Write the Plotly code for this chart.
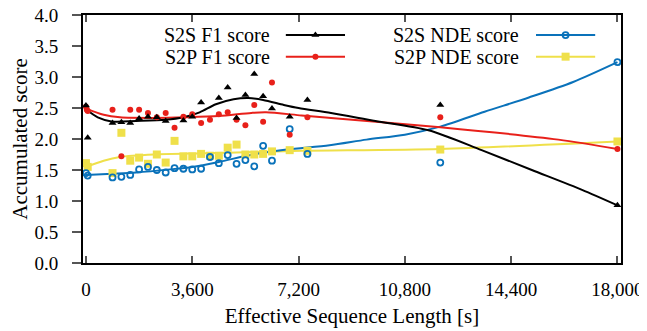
import plotly.graph_objects as go

# ---- scatter data (seconds, score) ----
s2s_f1_x = [0, 60, 900, 1200, 1500, 1800, 2100, 2400, 2700, 3300, 3600, 3900, 4500, 4800, 5100, 5400, 5700, 6000, 6300, 6900, 7500, 12000, 18000]
s2s_f1_y = [2.54, 2.02, 2.26, 2.27, 2.26, 2.33, 2.36, 2.35, 2.29, 2.30, 2.36, 2.59, 2.66, 2.83, 2.34, 2.71, 3.05, 2.69, 2.49, 2.36, 2.63, 2.55, 0.93]

s2p_f1_x = [0, 30, 60, 900, 1200, 1500, 1800, 2100, 2400, 2700, 3000, 3300, 3600, 3900, 4200, 4500, 4800, 5100, 5400, 5700, 6000, 6300, 6900, 7500, 12000, 18000]
s2p_f1_y = [2.52, 2.47, 2.45, 2.47, 1.72, 2.47, 2.47, 2.42, 2.35, 2.42, 2.18, 2.36, 2.40, 2.26, 2.31, 2.40, 2.43, 2.31, 2.22, 2.55, 2.28, 2.91, 2.07, 2.35, 2.35, 1.84]

s2s_nde_x = [0, 60, 900, 1200, 1500, 1800, 2100, 2400, 2700, 3000, 3300, 3600, 3900, 4200, 4500, 4800, 5100, 5400, 5700, 6000, 6300, 6900, 7500, 12000, 18000]
s2s_nde_y = [1.45, 1.41, 1.38, 1.39, 1.42, 1.51, 1.55, 1.50, 1.46, 1.53, 1.52, 1.51, 1.52, 1.71, 1.61, 1.74, 1.60, 1.66, 1.56, 1.89, 1.65, 2.16, 1.76, 1.62, 3.24]

s2p_nde_x = [0, 60, 900, 1200, 1500, 1800, 2100, 2400, 2700, 3000, 3300, 3600, 3900, 4200, 4500, 4800, 5100, 5400, 5700, 6000, 6300, 6900, 7500, 12000, 18000]
s2p_nde_y = [1.61, 1.55, 1.45, 2.10, 1.65, 1.70, 1.60, 1.75, 1.62, 1.97, 1.72, 1.72, 1.76, 1.73, 1.73, 1.86, 1.91, 1.75, 1.75, 1.76, 1.80, 1.82, 1.81, 1.83, 1.96]

# ---- smoothed trend curves ----
s2s_f1_fit_x = [0, 400, 900, 1700, 2700, 3300, 3850, 4400, 5000, 5500, 6000, 6700, 7200, 8300, 9800, 11600, 13400, 15100, 16800, 18000]
s2s_f1_fit_y = [2.48, 2.35, 2.28, 2.29, 2.31, 2.35, 2.43, 2.56, 2.64, 2.66, 2.63, 2.55, 2.50, 2.42, 2.29, 2.14, 1.82, 1.50, 1.18, 0.93]

s2p_f1_fit_x = [0, 600, 1150, 2300, 3400, 4500, 5600, 6100, 7300, 8300, 12000, 16000, 18000]
s2p_f1_fit_y = [2.49, 2.39, 2.35, 2.34, 2.35, 2.37, 2.42, 2.43, 2.38, 2.34, 2.19, 1.99, 1.84]

s2s_nde_fit_x = [0, 900, 1700, 2850, 3600, 4500, 5650, 6800, 8250, 9500, 10800, 12000, 13500, 15000, 16500, 18000]
s2s_nde_fit_y = [1.42, 1.44, 1.46, 1.51, 1.55, 1.63, 1.75, 1.83, 1.90, 1.99, 2.07, 2.20, 2.44, 2.67, 2.92, 3.24]

s2p_nde_fit_x = [0, 600, 1150, 2300, 4000, 5650, 7300, 12000, 18000]
s2p_nde_fit_y = [1.55, 1.65, 1.71, 1.75, 1.77, 1.79, 1.81, 1.84, 1.96]

x_ticks = [0, 3600, 7200, 10800, 14400, 18000]
y_ticks = [0.0, 0.5, 1.0, 1.5, 2.0, 2.5, 3.0, 3.5, 4.0]

series_names = ["S2S F1 score", "S2P F1 score", "S2S NDE score", "S2P NDE score"]

BLACK = "#000000"
RED = "#e8201a"
BLUE = "#0a72ba"
YELLOW = "#efe04a"
FONT = "Times New Roman, Liberation Serif, Tinos, Times, serif"

styles = [
    dict(color=BLACK, symbol="triangle-up", size=7, line=dict(width=0)),
    dict(color=RED, symbol="circle", size=6, line=dict(width=0)),
    dict(color=BLUE, symbol="circle-open", size=6, line=dict(width=1.8, color=BLUE)),
    dict(color=YELLOW, symbol="square", size=8, line=dict(width=0)),
]
line_colors = [BLACK, RED, BLUE, YELLOW]

pts = [(s2s_f1_x, s2s_f1_y), (s2p_f1_x, s2p_f1_y), (s2s_nde_x, s2s_nde_y), (s2p_nde_x, s2p_nde_y)]
fits = [(s2s_f1_fit_x, s2s_f1_fit_y), (s2p_f1_fit_x, s2p_f1_fit_y),
        (s2s_nde_fit_x, s2s_nde_fit_y), (s2p_nde_fit_x, s2p_nde_fit_y)]

fig = go.Figure()
order = [3, 2, 1, 0]
for i in order:
    fx, fy = fits[i]
    fig.add_trace(go.Scatter(x=fx, y=fy, mode="lines", showlegend=False,
                             line=dict(color=line_colors[i], width=2, shape="spline", smoothing=0.8),
                             hoverinfo="skip"))
for i in order:
    px_, py_ = pts[i]
    fig.add_trace(go.Scatter(x=px_, y=py_, mode="markers", name=series_names[i],
                             showlegend=False, marker=styles[i]))

# ---- custom gnuplot-style legend (text left, sample right) ----
leg_rows = [0.919, 0.832]
leg_cols = [(0.351, 0.377, 0.487), (0.815, 0.842, 0.952)]
for i, name in enumerate(series_names):
    col, row = divmod(i, 2)
    tx, l0, l1 = leg_cols[col]
    yy = leg_rows[row]
    fig.add_annotation(xref="paper", yref="paper", x=tx, y=yy, text=name, showarrow=False,
                       xanchor="right", yanchor="middle", font=dict(family=FONT, size=20, color="black"))
    fig.add_trace(go.Scatter(x=[l0, l1], y=[yy, yy], xaxis="x2", yaxis="y2", mode="lines",
                             line=dict(color=line_colors[i], width=2), showlegend=False, hoverinfo="skip"))
    fig.add_trace(go.Scatter(x=[(l0 + l1) / 2], y=[yy], xaxis="x2", yaxis="y2", mode="markers",
                             marker=styles[i], showlegend=False, hoverinfo="skip"))

# page body has an 8px default margin, so the figure is sized/offset to compensate
fig.update_layout(
    width=639, height=323,
    margin=dict(l=75, r=26, t=7, b=68, autoexpand=False),
    paper_bgcolor="white", plot_bgcolor="white",
    font=dict(family=FONT, size=19, color="black"),
    showlegend=False,
    xaxis=dict(range=[-100, 18120], tickvals=x_ticks, tickformat=",d",
               ticks="inside", ticklen=7, tickwidth=1.5, tickcolor="#555",
               showline=True, linecolor="black", linewidth=2, mirror="ticks",
               showgrid=False, zeroline=False, ticklabelstandoff=8, automargin=False,
               ticklabeloverflow="allow", tickfont=dict(size=19),
               title=dict(text="Effective Sequence Length [s]", standoff=10, font=dict(size=21))),
    yaxis=dict(range=[0, 4], tickvals=y_ticks, tickformat=".1f",
               ticks="outside", ticklen=9, tickwidth=1.5, tickcolor="#555",
               showline=True, linecolor="black", linewidth=2, mirror=True,
               showgrid=False, zeroline=False, ticklabelstandoff=10, automargin=False,
               ticklabeloverflow="allow", tickfont=dict(size=19),
               title=dict(text="Accumulated score", standoff=2, font=dict(size=21))),
    xaxis2=dict(overlaying="x", range=[0, 1], visible=False),
    yaxis2=dict(overlaying="y", range=[0, 1], visible=False),
)

fig.write_html("out.html")
